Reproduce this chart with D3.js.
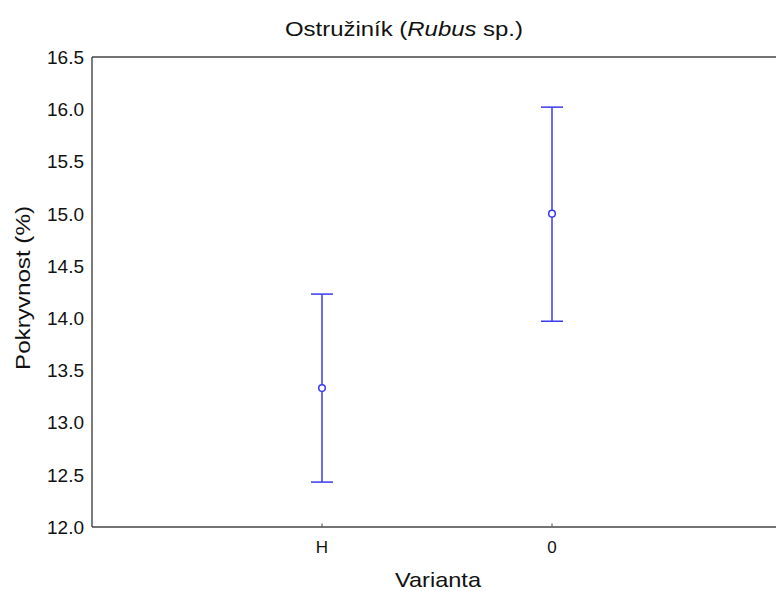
<!DOCTYPE html>
<html><head><meta charset="utf-8">
<script src="https://cdn.jsdelivr.net/npm/d3@7"></script>
<style>body{margin:0;background:#fff}svg{display:block}</style>
</head><body>
<script>
const categories = ["H", "0"];
const means = [13.33, 15.0];
const upper = [14.23, 16.02];
const lower = [12.43, 13.97];
const yTicks = [12.0, 12.5, 13.0, 13.5, 14.0, 14.5, 15.0, 15.5, 16.0, 16.5];

const W = 776, H = 591;
const svg = d3.select("body").append("svg").attr("width", W).attr("height", H);
const font = "'Liberation Sans', Arial, sans-serif";

const x = d3.scaleLinear().domain([0, 3]).range([92, 782]);
const y = d3.scaleLinear().domain([12, 16.5]).range([527, 57]);

// axes
svg.append("line").attr("x1", x(0)).attr("x2", W).attr("y1", y(12)).attr("y2", y(12))
  .attr("stroke", "#444").attr("stroke-width", 1.6);
svg.append("line").attr("x1", x(0)).attr("x2", W).attr("y1", y(16.5)).attr("y2", y(16.5))
  .attr("stroke", "#444").attr("stroke-width", 1.6);
svg.append("line").attr("x1", x(0)).attr("x2", x(0)).attr("y1", y(12)).attr("y2", y(16.5))
  .attr("stroke", "#444").attr("stroke-width", 1.4);

// y tick labels
svg.selectAll(".yt").data(yTicks).enter().append("text")
  .attr("x", 84).attr("y", d => y(d)).attr("dy", "0.36em")
  .attr("text-anchor", "end").attr("font-family", font).attr("font-size", 19).attr("fill", "#111")
  .text(d => d.toFixed(1));

// x ticks
categories.forEach((c, i) => {
  const cx = x(i + 1);
  svg.append("line").attr("x1", cx).attr("x2", cx).attr("y1", y(12) - 0.5).attr("y2", y(12) - 3.5)
    .attr("stroke", "#444").attr("stroke-width", 1);
  svg.append("text").attr("x", cx).attr("y", 553).attr("text-anchor", "middle")
    .attr("font-family", font).attr("font-size", 17).attr("fill", "#111").text(c);
});

// error bars
const blue = "#3a3af0";
categories.forEach((c, i) => {
  const cx = x(i + 1);
  const g = svg.append("g").attr("stroke", blue).attr("stroke-width", 1.5).attr("fill", "none");
  g.append("line").attr("x1", cx).attr("x2", cx).attr("y1", y(upper[i])).attr("y2", y(lower[i]));
  g.append("line").attr("x1", cx - 11).attr("x2", cx + 11).attr("y1", y(upper[i])).attr("y2", y(upper[i]));
  g.append("line").attr("x1", cx - 11).attr("x2", cx + 11).attr("y1", y(lower[i])).attr("y2", y(lower[i]));
  g.append("circle").attr("cx", cx).attr("cy", y(means[i])).attr("r", 3.3).attr("fill", "#fff");
});

// title
const t = svg.append("text").attr("x", 285).attr("y", 36)
  .attr("font-family", font).attr("font-size", 21).attr("fill", "#111")
  .attr("textLength", 238).attr("lengthAdjust", "spacingAndGlyphs");
t.append("tspan").text("Ostružiník (");
t.append("tspan").attr("font-style", "italic").text("Rubus");
t.append("tspan").text(" sp.)");

// axis titles
svg.append("text").attr("x", 395).attr("y", 587)
  .attr("font-family", font).attr("font-size", 21).attr("fill", "#111")
  .attr("textLength", 86).attr("lengthAdjust", "spacingAndGlyphs").text("Varianta");
svg.append("text").attr("transform", "translate(30,370) rotate(-90)")
  .attr("font-family", font).attr("font-size", 21).attr("fill", "#111")
  .attr("textLength", 164).attr("lengthAdjust", "spacingAndGlyphs").text("Pokryvnost (%)");
</script>
</body></html>
